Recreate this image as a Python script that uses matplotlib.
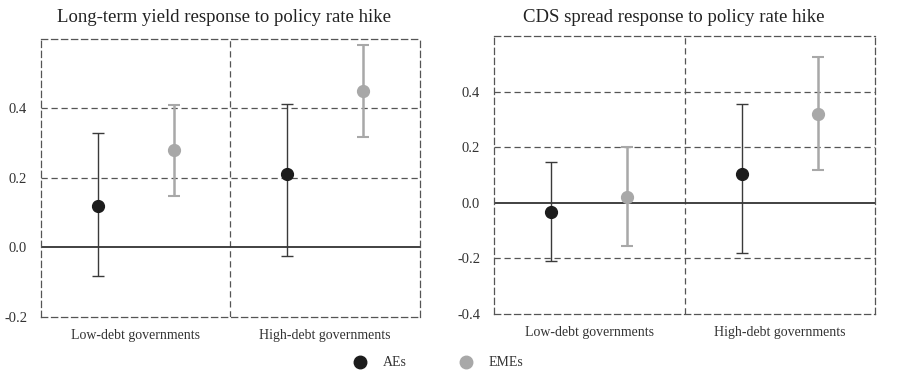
import numpy as np
import matplotlib.pyplot as plt
from matplotlib.lines import Line2D

plt.rcParams['font.family'] = ['Liberation Serif', 'DejaVu Serif']

# Data
groups = ["Low-debt governments", "High-debt governments"]
series = ["AEs", "EMEs"]

yield_ae = [0.12, 0.21]
yield_ae_lo = [-0.083, -0.026]
yield_ae_hi = [0.329, 0.413]
yield_eme = [0.28, 0.451]
yield_eme_lo = [0.149, 0.318]
yield_eme_hi = [0.409, 0.583]

cds_ae = [-0.032, 0.104]
cds_ae_lo = [-0.21, -0.179]
cds_ae_hi = [0.146, 0.354]
cds_eme = [0.021, 0.321]
cds_eme_lo = [-0.157, 0.118]
cds_eme_hi = [0.2, 0.525]

ae_color = "#1c1c1c"
eme_color = "#a8a8a8"
grid_color = "#555555"


def draw_panel(ax, ae, ae_lo, ae_hi, eme, eme_lo, eme_hi, ylim, yticks, gridlines):
    x = np.arange(len(groups))
    ae = np.array(ae)
    eme = np.array(eme)
    ax.errorbar(x + 0.3, ae, yerr=[ae - np.array(ae_lo), np.array(ae_hi) - ae],
                fmt='o', color=ae_color, ecolor="#3a3a3a", elinewidth=1.0,
                capsize=4, capthick=1.0, markersize=8.5, zorder=3)
    ax.errorbar(x + 0.7, eme, yerr=[eme - np.array(eme_lo), np.array(eme_hi) - eme],
                fmt='o', color=eme_color, ecolor=eme_color, elinewidth=1.8,
                capsize=4, capthick=1.5, markersize=8.5, zorder=3)

    ax.set_xlim(0, 2)
    ax.set_ylim(*ylim)
    for g in gridlines:
        ax.axhline(g, color=grid_color, lw=0.9, ls=(0, (5, 3)), zorder=1)
    ax.axhline(0, color="#333333", lw=1.3, zorder=2)
    ax.axvline(1, color=grid_color, lw=0.9, ls=(0, (5, 3)), zorder=1)

    for s in ax.spines.values():
        s.set_color(grid_color)
        s.set_linewidth(0.9)
        s.set_linestyle((0, (5, 3)))

    ax.set_yticks(yticks)
    ax.set_yticklabels([f"{t:.1f}" for t in yticks], color="#333333", fontsize=10.5)
    ax.set_xticks([0.5, 1.5])
    ax.set_xticklabels(groups, color="#333333", fontsize=10)
    ax.tick_params(length=0, pad=9)
    ax.tick_params(axis='y', pad=10)


fig = plt.figure(figsize=(9, 3.8), dpi=100)

ax1 = fig.add_axes([0.0456, 0.1658, 0.421, 0.732])
draw_panel(ax1, yield_ae, yield_ae_lo, yield_ae_hi,
           yield_eme, yield_eme_lo, yield_eme_hi,
           (-0.2, 0.6), [-0.2, 0.0, 0.2, 0.4], [0.2, 0.4])

ax2 = fig.add_axes([0.549, 0.1737, 0.4233, 0.7316])
draw_panel(ax2, cds_ae, cds_ae_lo, cds_ae_hi,
           cds_eme, cds_eme_lo, cds_eme_hi,
           (-0.4, 0.6), [-0.4, -0.2, 0.0, 0.2, 0.4], [-0.2, 0.2, 0.4])

fig.text(0.249, 0.955, "Long-term yield response to policy rate hike",
         ha='center', va='center', fontsize=13.5, color="#222222")
fig.text(0.749, 0.955, "CDS spread response to policy rate hike",
         ha='center', va='center', fontsize=13.5, color="#222222")

handles = [
    Line2D([], [], marker='o', ls='none', color=ae_color, markersize=9),
    Line2D([], [], marker='o', ls='none', color=eme_color, markersize=9),
]
fig.legend(handles, series, loc='center', bbox_to_anchor=(0.487, 0.045),
           ncol=2, frameon=False, fontsize=10, columnspacing=3.7,
           handlelength=1.0, handletextpad=1.15, labelcolor="#333333")

fig.savefig("out.png", dpi=100, facecolor="white")
